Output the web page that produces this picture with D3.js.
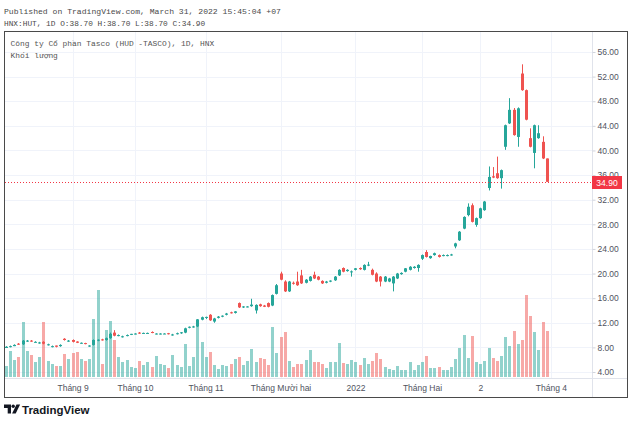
<!DOCTYPE html>
<html><head><meta charset="utf-8">
<script src="https://cdn.jsdelivr.net/npm/d3@7/dist/d3.min.js"></script>
<style>body{margin:0;background:#fff;}svg{display:block;}</style>
</head><body><svg id="c" width="630" height="422"></svg>
<script>
// ---- DATA (bar index 0..130, daily bars) ----
const openP = [7.9,8.1,8.2,8.6,8.5,9.0,9.1,8.8,8.7,8.9, 8.4,8.1,8.3,8.2,9.4,9.0,9.2,8.95,8.7,8.7, 8.2,8.4,9.1,9.3,9.2,9.5,10.4,9.9,9.7,9.9,
 10.1,10.2,10.4,10.3,10.3,10.5,10.2,10.2,10.2,10.3, 10.0,10.2,10.3,10.4,11.2,11.3,11.4,12.5,12.8,13.3, 12.2,12.8,13.0,13.3,13.7,13.6,15.2,14.5,14.6,14.7,
 14.0,15.0,14.8,15.2,14.8,16.7,20.0,18.7,17.1,18.5, 18.7,19.7,18.5,18.8,19.8,19.5,18.8,18.5,18.7,18.9, 19.7,20.9,20.4,20.2,20.6,20.9,20.6,21.3,20.6,20.0,
 19.5,18.7,18.7,18.4,19.2,19.9,20.3,20.6,20.9,20.9, 22.4,23.5,22.5,23.0,23.0,22.9,22.9,23.0,24.4,25.4, 27.3,29.5,31.1,27.9,29.0,30.3,33.9,35.8,36.3,35.5,
 40.6,44.4,46.6,42.2,52.5,49.8,42.0,39.6,42.0,41.4, 38.7];
const highP = [8.2,8.3,8.5,8.7,9.2,9.2,9.2,9.0,8.9,9.0, 8.6,8.3,8.3,8.5,9.5,9.2,9.3,9.0,8.8,8.75, 8.35,9.3,9.3,9.4,9.6,10.4,10.8,10.1,9.9,10.1,
 10.2,10.3,10.5,10.4,10.4,10.6,10.3,10.3,10.3,10.35, 10.2,10.4,10.5,11.2,11.4,11.5,12.6,13.0,13.0,13.4, 12.8,13.1,13.2,13.6,13.8,13.9,15.3,14.7,14.7,15.9,
 15.0,15.1,14.9,15.3,16.6,18.3,20.3,18.9,18.8,18.7, 20.3,20.6,19.1,19.6,20.3,19.6,18.9,18.8,18.9,19.6, 20.7,21.0,20.7,20.5,20.9,21.0,21.5,21.9,20.8,20.2,
 19.6,19.6,19.3,19.6,20.1,20.2,20.9,21.2,21.2,21.5, 23.1,23.8,22.9,23.4,23.1,23.1,23.1,23.2,25.0,26.9, 29.3,31.4,31.4,29.1,30.7,31.8,37.4,37.3,39.0,36.9,
 44.2,48.5,46.9,47.0,54.0,49.9,43.6,44.2,44.1,42.3, 38.7];
const lowP = [7.9,8.0,8.2,8.4,8.4,8.9,8.9,8.8,8.6,8.5, 8.3,8.0,8.0,8.1,9.1,8.9,8.8,8.7,8.6,8.5, 8.1,8.3,9.0,9.1,9.1,9.4,9.8,9.8,9.6,9.8,
 10.0,10.1,10.2,10.2,10.2,10.3,10.1,10.1,10.15,10.1, 9.9,10.1,10.2,10.3,11.1,11.2,11.3,12.4,12.6,12.3, 12.0,12.7,12.9,13.2,13.5,13.5,14.4,14.4,14.5,14.6,
 13.5,14.6,14.55,14.5,14.7,16.6,18.9,17.0,17.0,18.2, 18.0,18.3,18.4,18.7,19.1,18.9,18.3,18.4,18.6,18.8, 19.6,20.2,20.3,19.5,20.5,20.6,20.5,21.2,19.7,18.6,
 17.9,18.6,18.6,17.1,19.1,19.8,20.2,20.5,20.8,20.3, 22.2,22.6,22.4,22.9,22.6,22.8,22.8,22.9,24.1,25.3, 27.2,29.3,28.3,27.6,28.9,30.2,33.5,35.5,35.4,33.8,
 40.1,44.3,42.4,40.6,49.7,44.9,40.5,37.1,41.9,38.6, 34.9];
const closeP = [8.1,8.2,8.4,8.5,9.1,9.1,9.0,8.9,8.8,8.6, 8.5,8.2,8.1,8.4,9.2,9.1,8.9,8.75,8.75,8.55, 8.3,9.2,9.25,9.2,9.5,10.2,9.9,10.0,9.8,10.0,
 10.2,10.25,10.3,10.35,10.35,10.4,10.25,10.25,10.25,10.2, 10.1,10.3,10.45,11.1,11.35,11.4,12.5,12.9,12.95,12.4, 12.7,13.0,13.15,13.5,13.6,13.85,14.5,14.65,14.65,14.95,
 14.9,14.7,14.6,14.6,16.5,18.1,19.0,17.1,18.7,18.35, 18.1,18.4,19.0,19.5,19.2,19.0,18.4,18.7,18.85,19.5, 20.6,20.3,20.6,20.35,20.85,20.7,21.4,21.45,19.8,18.7,
 18.7,19.5,19.2,19.5,20.0,20.1,20.85,21.1,21.1,21.4, 23.0,22.7,22.85,23.3,22.7,23.0,23.0,23.1,24.9,26.8, 29.2,30.85,28.4,29.0,30.6,31.7,35.7,35.6,35.5,36.8,
 44.1,46.6,42.5,46.85,49.8,45.0,40.6,44.1,42.8,38.7, 34.9];
// volume, in 10 000 shares
const volume = [11,26,17,20,55,26,22,15,20,55, 16,13,11,11,23,18,24,25,18,16, 18,58,87,13,47,56,37,20,15,17,
 10,9,16,12,15,10,21,13,12,9, 22,12,10,33,11,20,58,35,20,25, 12,8,12,11,13,18,20,12,16,28,
 15,19,18,12,50,24,40,45,16,10, 13,13,17,27,15,15,13,9,15,15, 34,14,13,17,15,12,19,13,16,24,
 18,10,8,7,11,7,7,15,7,12, 15,21,9,9,10,7,7,10,18,29, 42,19,41,15,13,16,29,19,16,21,
 40,31,46,33,37,82,61,45,27,55, 46];
const xTickIndex = [16,31,48,66,84,100,114,131];
const xTickLabels = ["Tháng 9","Tháng 10","Tháng 11","Tháng Mười hai","2022","Tháng Hai","2","Tháng 4"];
const yTicks = [4,8,12,16,20,24,28,32,36,40,44,48,52,56];
const lastPrice = 34.90;
const headerLine1 = "Published on TradingView.com, March 31, 2022 15:45:04 +07";
const headerLine2 = "HNX:HUT, 1D O:38.70 H:38.70 L:38.70 C:34.90";
const legend1 = "Công ty Cổ phần Tasco (HUD -TASCO), 1D, HNX";
const legend2 = "Khối lượng";

// ---- RENDER ----
const UP = "#26a69a", DOWN = "#ef5350";
const svg = d3.select("#c");
const n = closeP.length;
const x = d3.scaleLinear().domain([0, n - 1]).range([6, 546.8]);
const y = d3.scaleLinear().domain([4, 56]).range([372, 52]);
const yv = d3.scaleLinear().domain([0, d3.max(volume)]).range([377, 290]);
const bars = d3.range(n).map(i => ({i, o: openP[i], h: highP[i], l: lowP[i], c: closeP[i], v: volume[i]}));
const cx = i => Math.round(x(i));

svg.append("rect").attr("width", 630).attr("height", 422).attr("fill", "#fff");

// grid
const grid = svg.append("g");
grid.selectAll("line.h").data(yTicks).join("line")
  .attr("x1", 5).attr("x2", 592).attr("y1", d => Math.round(y(d)) + 0.5).attr("y2", d => Math.round(y(d)) + 0.5)
  .attr("stroke", "#f0f3fa");
grid.selectAll("line.v").data(xTickIndex).join("line")
  .attr("x1", d => cx(d) + 0.5).attr("x2", d => cx(d) + 0.5).attr("y1", 32).attr("y2", 378)
  .attr("stroke", "#f0f3fa");

// volume
svg.append("g").selectAll("rect").data(bars).join("rect")
  .attr("x", d => cx(d.i) - 1).attr("width", 3)
  .attr("y", d => yv(d.v)).attr("height", d => yv(0) - yv(d.v))
  .attr("fill", d => d.c >= d.o ? UP : DOWN).attr("fill-opacity", 0.5);

// candles
const cg = svg.append("g");
cg.selectAll("line").data(bars).join("line")
  .attr("x1", d => cx(d.i) + 0.5).attr("x2", d => cx(d.i) + 0.5)
  .attr("y1", d => y(d.h)).attr("y2", d => y(d.l))
  .attr("stroke", d => d.c >= d.o ? UP : DOWN).attr("stroke-width", 1);
cg.selectAll("rect").data(bars).join("rect")
  .attr("x", d => cx(d.i) - 1).attr("width", 3)
  .attr("y", d => y(Math.max(d.o, d.c)))
  .attr("height", d => Math.max(1, Math.abs(y(d.o) - y(d.c))))
  .attr("fill", d => d.c >= d.o ? UP : DOWN);

// last price dotted line
const yl = Math.round(y(lastPrice)) + 0.5;
svg.append("line").attr("x1", 5).attr("x2", 592).attr("y1", yl).attr("y2", yl)
  .attr("stroke", "#f23645").attr("stroke-dasharray", "1,2");

// separators & frame
svg.append("line").attr("x1", 592.5).attr("x2", 592.5).attr("y1", 31.5).attr("y2", 397.5).attr("stroke", "#e0e3eb");
svg.append("line").attr("x1", 4.5).attr("x2", 627.5).attr("y1", 378.5).attr("y2", 378.5).attr("stroke", "#e0e3eb");
svg.append("rect").attr("x", 4.5).attr("y", 31.5).attr("width", 623).attr("height", 366)
  .attr("fill", "none").attr("stroke", "#4a4a4a");

// price axis
const ya = svg.append("g").attr("transform", "translate(592.5,0)")
  .call(d3.axisRight(y).tickValues(yTicks).tickFormat(d3.format(".2f")).tickSize(3).tickPadding(2));
ya.select(".domain").remove();
ya.selectAll("line").attr("stroke", "#d1d4dc");
ya.selectAll("text").attr("fill", "#50535e").style("font", "8.5px 'Liberation Sans', Arial, sans-serif");

// time axis
const xa = svg.append("g").attr("transform", "translate(0,378)")
  .call(d3.axisBottom(x).tickValues(xTickIndex).tickFormat((d, k) => xTickLabels[k]).tickSize(0).tickPadding(7));
xa.select(".domain").remove();
xa.selectAll("text").attr("fill", "#50535e").style("font", "8.5px 'Liberation Sans', Arial, sans-serif");

// last price label
svg.append("rect").attr("x", 592).attr("y", yl - 6.5).attr("width", 30).attr("height", 13).attr("fill", "#f23645");
svg.append("text").attr("x", 607).attr("y", yl + 3).attr("text-anchor", "middle").attr("fill", "#fff")
  .style("font", "8.5px 'Liberation Sans', Arial, sans-serif").text(d3.format(".2f")(lastPrice));

// header
const mono = "'Liberation Mono', 'DejaVu Sans Mono', monospace";
svg.append("text").attr("x", 4).attr("y", 13.5).attr("fill", "#4a4a4a").style("font", `8.1px ${mono}`).text(headerLine1);
svg.append("text").attr("x", 4).attr("y", 25.5).attr("fill", "#4a4a4a").style("font", `7.8px ${mono}`).text(headerLine2);
svg.append("text").attr("x", 10.5).attr("y", 46).attr("fill", "#555").style("font", `7.9px ${mono}`).text(legend1);
svg.append("text").attr("x", 10.5).attr("y", 57.5).attr("fill", "#555").style("font", `7.9px ${mono}`).text(legend2);

// logo
const lg = svg.append("g").attr("fill", "#131722");
lg.append("path").attr("d", "M4 404.5 h7 v9 h-3.3 v-5.6 h-3.7 z");
lg.append("circle").attr("cx", 13.2).attr("cy", 406.2).attr("r", 1.7);
lg.append("path").attr("d", "M16.5 404.5 h3.6 l-4.4 9 h-3.6 z");
svg.append("text").attr("x", 22).attr("y", 413.5).attr("fill", "#131722")
  .style("font", "bold 11.5px 'Liberation Sans', Arial, sans-serif").text("TradingView");
</script>
</body></html>
